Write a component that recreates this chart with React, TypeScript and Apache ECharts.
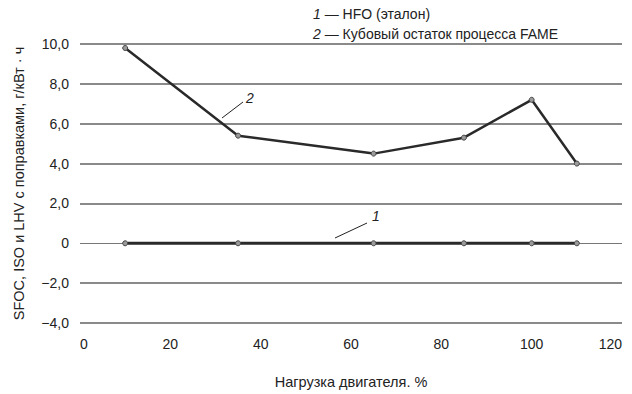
import React, { useEffect, useRef } from "react";
import * as echarts from "echarts";

// Engine load, %
const loadPoints = [10, 35, 65, 85, 100, 110];
// 1 — HFO (reference fuel): deviation is zero by definition
const hfoValues = [0, 0, 0, 0, 0, 0];
// 2 — FAME process still bottoms
const fameResidueValues = [9.8, 5.4, 4.5, 5.3, 7.2, 4.0];

const yTicks = [-4, -2, 0, 2, 4, 6, 8, 10];

const legendLines = ["HFO (эталон)", "Кубовый остаток процесса FAME"];
const xAxisTitle = "Нагрузка двигателя. %";
const yAxisTitle = "SFOC, ISO и LHV с поправками, г/кВт · ч";

const FONT = "'Liberation Sans', Arial, sans-serif";

const formatY = (v: number) => {
  if (v === 0) return "0";
  const s = Math.abs(v).toFixed(1).replace(".", ",");
  return v < 0 ? "\u2212" + s : s;
};

const pairs = (ys: number[]) => loadPoints.map((x, i) => [x, ys[i]]);

export default function App() {
  const ref = useRef<HTMLDivElement>(null);

  useEffect(() => {
    if (!ref.current) return;
    const chart = echarts.init(ref.current, undefined, { renderer: "svg" });

    const gridGray = "#8a8a8a";
    // the zero split line is hidden here and drawn thinner by a markLine
    const splitColors = yTicks.map((v) => (v === 0 ? "rgba(0,0,0,0)" : gridGray));

    const italicNum = { fontStyle: "italic", fontFamily: FONT, fontSize: 14, fill: "#222" };

    chart.setOption({
      animation: false,
      backgroundColor: "#ffffff",
      grid: {
        left: 80,
        right: 10,
        top: 44,
        bottom: 71,
        containLabel: false,
        outerBoundsMode: "none",
      },
      xAxis: {
        type: "value",
        min: 0,
        max: 120,
        interval: 20,
        name: xAxisTitle,
        nameLocation: "middle",
        nameGap: 51,
        nameTextStyle: { fontFamily: FONT, fontSize: 14.5, color: "#222" },
        axisLine: { show: false },
        axisTick: { show: false },
        splitLine: { show: false },
        axisLabel: {
          margin: 14,
          fontFamily: FONT,
          fontSize: 14,
          color: "#222",
          alignMinLabel: "left",
          alignMaxLabel: "right",
        },
      },
      yAxis: {
        type: "value",
        min: -4,
        max: 10,
        interval: 2,
        name: yAxisTitle,
        nameLocation: "middle",
        nameGap: 54,
        nameTextStyle: { fontFamily: FONT, fontSize: 14.5, color: "#222" },
        axisLine: { show: false },
        axisTick: { show: false },
        axisLabel: {
          margin: 11,
          fontFamily: FONT,
          fontSize: 14,
          color: "#222",
          formatter: formatY,
        },
        splitLine: { show: true, lineStyle: { color: splitColors, width: 2 } },
      },
      series: [
        {
          name: "1",
          type: "line",
          data: pairs(hfoValues),
          symbol: "circle",
          symbolSize: 5,
          showAllSymbol: true,
          itemStyle: { color: "#9a9a9a", borderColor: "#444", borderWidth: 1 },
          lineStyle: { color: "#2a2a2a", width: 3 },
          z: 3,
          markLine: {
            silent: true,
            symbol: "none",
            label: { show: false },
            lineStyle: { color: "#777", width: 1, type: "solid" },
            data: [{ yAxis: 0 }],
            z: 1,
          },
        },
        {
          name: "2",
          type: "line",
          data: pairs(fameResidueValues),
          symbol: "circle",
          symbolSize: 5,
          showAllSymbol: true,
          itemStyle: { color: "#9a9a9a", borderColor: "#444", borderWidth: 1 },
          lineStyle: { color: "#2a2a2a", width: 2.5 },
          z: 3,
        },
      ],
      graphic: [
        // legend
        {
          type: "text",
          left: 313,
          top: 7,
          style: {
            text: "{n|1} — " + legendLines[0],
            fontFamily: FONT,
            fontSize: 14,
            fill: "#222",
            rich: { n: italicNum },
          },
        },
        {
          type: "text",
          left: 313,
          top: 27,
          style: {
            text: "{n|2} — " + legendLines[1],
            fontFamily: FONT,
            fontSize: 14,
            fill: "#222",
            rich: { n: italicNum },
          },
        },
        // curve callouts
        {
          type: "line",
          shape: { x1: 222, y1: 118, x2: 243, y2: 102 },
          style: { stroke: "#222", lineWidth: 1 },
        },
        {
          type: "text",
          x: 250,
          y: 98,
          style: {
            text: "2",
            fontFamily: FONT,
            fontStyle: "italic",
            fontSize: 14,
            fill: "#222",
            align: "center",
            verticalAlign: "middle",
          },
        },
        {
          type: "line",
          shape: { x1: 335, y1: 238, x2: 367, y2: 223 },
          style: { stroke: "#222", lineWidth: 1 },
        },
        {
          type: "text",
          x: 376,
          y: 216,
          style: {
            text: "1",
            fontFamily: FONT,
            fontStyle: "italic",
            fontSize: 14,
            fill: "#222",
            align: "center",
            verticalAlign: "middle",
          },
        },
      ],
    });

    return () => chart.dispose();
  }, []);

  return <div ref={ref} style={{ width: 632, height: 394, position: "absolute", left: 0, top: 0 }} />;
}
